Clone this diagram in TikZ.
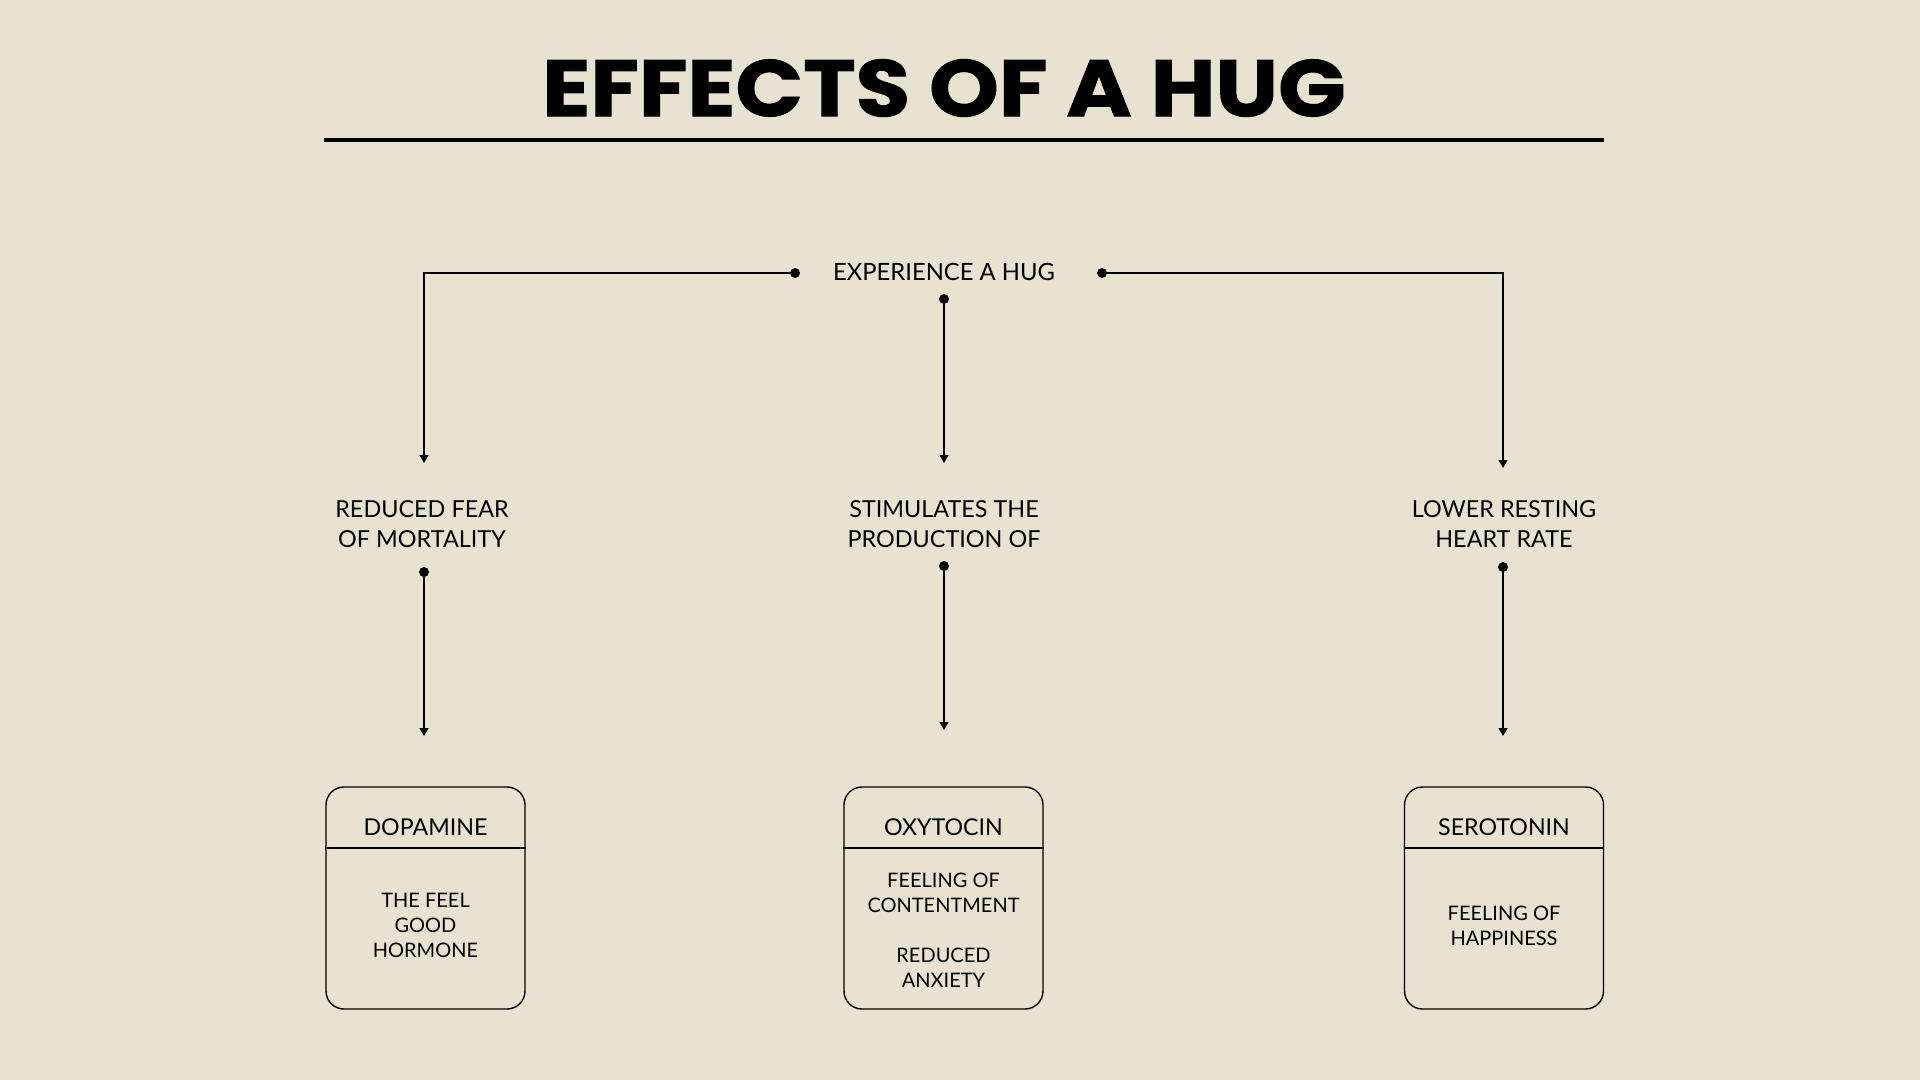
\documentclass[tikz,border=0pt]{standalone}
\usepackage{fontspec}
\setmainfont{Lato}
\newfontfamily\titlefont[FakeBold=1.2]{Poppins}
\usetikzlibrary{arrows.meta}
\definecolor{paper}{RGB}{232,227,209}

\begin{document}
\begin{tikzpicture}[x=0.5pt, y=-0.5pt, every node/.style={inner sep=0pt}]
  \tikzset{dot/.style={circle, inner sep=0pt, minimum size=5pt, fill=black}}
  \tikzset{lbl/.style={align=center, font=\fontsize{11.7}{15}\selectfont}}
  \tikzset{head/.style={font=\fontsize{11.6}{14}\selectfont}}
  \tikzset{body/.style={align=center, font=\fontsize{10}{12.5}\selectfont}}
  \tikzset{card/.style={draw=black, rounded corners=9pt, line width=0.7pt, minimum width=99.5pt, minimum height=111pt}}
  \tikzset{L/.style={draw=black, line width=0.6pt}}
  \tikzset{A/.style={draw=black, line width=0.6pt, -{Triangle[length=4pt,width=4.5pt]}}}
  \fill[paper] (0,0) rectangle (1920,1080);
  \useasboundingbox (0,0) rectangle (1920,1080);
  % title
  \node[font=\titlefont\bfseries\fontsize{40}{48}\selectfont] (title) at (944,88) {\scalebox{1.11}[1]{EFFECTS OF A HUG}};
  \coordinate (ruleL) at (324,140);
  \coordinate (ruleR) at (1604,140);
  \draw[line width=2pt] (ruleL) -- (ruleR);
  % start
  \node[lbl, font=\fontsize{11.9}{15}\selectfont] (hug) at (944,272) {EXPERIENCE A HUG};
  \node[dot] (dotHL) at (795,273) {};
  \node[dot] (dotHR) at (1102,273) {};
  \node[dot] (dotHM) at (944,299) {};
  \coordinate (arrL) at (424,463);
  \coordinate (arrM) at (944,463);
  \coordinate (arrR) at (1503,468);
  \draw[A] (dotHL.center) -| (arrL);
  \draw[A] (dotHM.center) -- (arrM);
  \draw[A] (dotHR.center) -| (arrR);
  % effects
  \node[lbl] (fear) at (422,524) {REDUCED FEAR\\OF MORTALITY};
  \node[lbl] (prod) at (944,524) {STIMULATES THE\\PRODUCTION OF};
  \node[lbl] (heart) at (1504,524) {LOWER RESTING\\HEART RATE};
  \node[dot] (dotL) at (424,572) {};
  \node[dot] (dotM) at (944,566) {};
  \node[dot] (dotR) at (1503,567) {};
  \coordinate (boxArrL) at (424,736);
  \coordinate (boxArrM) at (944,730);
  \coordinate (boxArrR) at (1503,736);
  \draw[A] (dotL.center) -- (boxArrL);
  \draw[A] (dotM.center) -- (boxArrM);
  \draw[A] (dotR.center) -- (boxArrR);
  % hormones
  \node[card] (dopa) at (425.5,898) {};
  \node[card] (oxy) at (943.5,898) {};
  \node[card] (sero) at (1504,898) {};
  \draw[L] (dopa.west |- 0,848) -- (dopa.east |- 0,848);
  \draw[L] (oxy.west |- 0,848) -- (oxy.east |- 0,848);
  \draw[L] (sero.west |- 0,848) -- (sero.east |- 0,848);
  \node[head] (dopaHead) at (425.5,827) {DOPAMINE};
  \node[head] (oxyHead) at (943.5,827) {OXYTOCIN};
  \node[head] (seroHead) at (1504,827) {SEROTONIN};
  \node[body] (dopaText) at (425.5,925) {THE FEEL\\GOOD\\HORMONE};
  \node[body] (oxyText) at (943.5,930) {FEELING OF\\CONTENTMENT\\[12.5pt]REDUCED\\ANXIETY};
  \node[body] (seroText) at (1504,926) {FEELING OF\\HAPPINESS};
\end{tikzpicture}
\end{document}
